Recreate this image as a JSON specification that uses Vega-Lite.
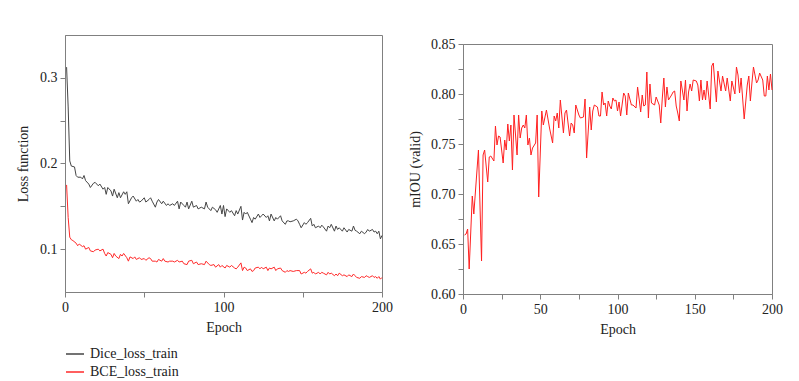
{
"$schema":"https://vega.github.io/schema/vega-lite/v6.json",
"autosize":{"type":"pad"},
"padding":{"left":16,"top":34,"right":5,"bottom":0},
"spacing":15,
"config":{
 "font":"Liberation Serif",
 "view":{"stroke":"#808080","strokeWidth":1},
 "axis":{"domainColor":"#808080","tickColor":"#808080","labelFont":"Liberation Serif","titleFont":"Liberation Serif","labelFontSize":14,"titleFontSize":14,"titleFontWeight":"normal","labelColor":"#222","titleColor":"#222","grid":false,"tickSize":5,"labelPadding":3,"labelAngle":0,"labelFlush":false,"labelOverlap":false},
 "legend":{"labelFont":"Liberation Serif","labelFontSize":14,"labelColor":"#222"}
},
"datasets":{
 "dice":[{"e":1,"v":0.3125},{"e":2,"v":0.266},{"e":3,"v":0.203},{"e":4,"v":0.197},{"e":6,"v":0.196},{"e":7,"v":0.186},{"e":8,"v":0.184},{"e":10,"v":0.184},{"e":11,"v":0.182},{"e":12,"v":0.186},{"e":13,"v":0.18},{"e":15,"v":0.176},{"e":16,"v":0.172},{"e":18,"v":0.177},{"e":19,"v":0.178},{"e":21,"v":0.174},{"e":22,"v":0.176},{"e":24,"v":0.17},{"e":25,"v":0.172},{"e":26,"v":0.164},{"e":27,"v":0.172},{"e":29,"v":0.168},{"e":30,"v":0.162},{"e":31,"v":0.17},{"e":33,"v":0.16},{"e":34,"v":0.166},{"e":35,"v":0.16},{"e":37,"v":0.167},{"e":38,"v":0.164},{"e":39,"v":0.167},{"e":40,"v":0.153},{"e":42,"v":0.16},{"e":43,"v":0.162},{"e":45,"v":0.156},{"e":46,"v":0.158},{"e":47,"v":0.155},{"e":48,"v":0.156},{"e":50,"v":0.16},{"e":51,"v":0.155},{"e":53,"v":0.158},{"e":54,"v":0.16},{"e":55,"v":0.156},{"e":57,"v":0.149},{"e":58,"v":0.155},{"e":59,"v":0.158},{"e":61,"v":0.153},{"e":62,"v":0.156},{"e":64,"v":0.151},{"e":65,"v":0.153},{"e":66,"v":0.151},{"e":68,"v":0.153},{"e":69,"v":0.151},{"e":71,"v":0.156},{"e":72,"v":0.147},{"e":73,"v":0.155},{"e":75,"v":0.151},{"e":76,"v":0.149},{"e":77,"v":0.155},{"e":78,"v":0.147},{"e":80,"v":0.156},{"e":81,"v":0.149},{"e":83,"v":0.151},{"e":84,"v":0.147},{"e":86,"v":0.149},{"e":88,"v":0.147},{"e":89,"v":0.155},{"e":90,"v":0.149},{"e":92,"v":0.145},{"e":93,"v":0.149},{"e":95,"v":0.146},{"e":96,"v":0.143},{"e":98,"v":0.151},{"e":99,"v":0.141},{"e":100,"v":0.151},{"e":101,"v":0.138},{"e":102,"v":0.147},{"e":104,"v":0.143},{"e":105,"v":0.145},{"e":107,"v":0.139},{"e":108,"v":0.145},{"e":109,"v":0.141},{"e":111,"v":0.15},{"e":112,"v":0.134},{"e":113,"v":0.143},{"e":114,"v":0.141},{"e":115,"v":0.143},{"e":117,"v":0.135},{"e":118,"v":0.131},{"e":119,"v":0.137},{"e":120,"v":0.135},{"e":122,"v":0.141},{"e":123,"v":0.137},{"e":124,"v":0.139},{"e":125,"v":0.141},{"e":127,"v":0.137},{"e":128,"v":0.139},{"e":129,"v":0.133},{"e":130,"v":0.141},{"e":132,"v":0.133},{"e":133,"v":0.137},{"e":134,"v":0.135},{"e":136,"v":0.139},{"e":137,"v":0.133},{"e":139,"v":0.129},{"e":140,"v":0.133},{"e":141,"v":0.133},{"e":142,"v":0.132},{"e":144,"v":0.133},{"e":146,"v":0.135},{"e":147,"v":0.133},{"e":148,"v":0.129},{"e":149,"v":0.125},{"e":151,"v":0.131},{"e":152,"v":0.129},{"e":153,"v":0.131},{"e":155,"v":0.136},{"e":156,"v":0.127},{"e":157,"v":0.129},{"e":158,"v":0.125},{"e":160,"v":0.127},{"e":161,"v":0.125},{"e":162,"v":0.128},{"e":163,"v":0.126},{"e":165,"v":0.121},{"e":166,"v":0.127},{"e":167,"v":0.125},{"e":168,"v":0.129},{"e":170,"v":0.121},{"e":171,"v":0.127},{"e":172,"v":0.123},{"e":173,"v":0.125},{"e":175,"v":0.121},{"e":176,"v":0.125},{"e":178,"v":0.12},{"e":179,"v":0.123},{"e":181,"v":0.121},{"e":182,"v":0.127},{"e":183,"v":0.122},{"e":184,"v":0.121},{"e":186,"v":0.118},{"e":187,"v":0.121},{"e":189,"v":0.118},{"e":190,"v":0.12},{"e":191,"v":0.123},{"e":192,"v":0.121},{"e":194,"v":0.123},{"e":195,"v":0.12},{"e":196,"v":0.121},{"e":197,"v":0.118},{"e":198,"v":0.121},{"e":199,"v":0.112},{"e":200,"v":0.116}],
 "bce":[{"e":1,"v":0.175},{"e":2,"v":0.137},{"e":3,"v":0.114},{"e":4,"v":0.111},{"e":5,"v":0.11},{"e":7,"v":0.107},{"e":8,"v":0.104},{"e":9,"v":0.106},{"e":11,"v":0.103},{"e":12,"v":0.104},{"e":13,"v":0.1},{"e":15,"v":0.102},{"e":16,"v":0.098},{"e":18,"v":0.097},{"e":19,"v":0.099},{"e":21,"v":0.1},{"e":22,"v":0.098},{"e":24,"v":0.1},{"e":25,"v":0.095},{"e":26,"v":0.092},{"e":27,"v":0.096},{"e":29,"v":0.094},{"e":30,"v":0.09},{"e":31,"v":0.095},{"e":32,"v":0.092},{"e":34,"v":0.089},{"e":35,"v":0.094},{"e":36,"v":0.092},{"e":37,"v":0.095},{"e":39,"v":0.09},{"e":40,"v":0.086},{"e":41,"v":0.091},{"e":43,"v":0.089},{"e":44,"v":0.091},{"e":45,"v":0.088},{"e":47,"v":0.09},{"e":48,"v":0.088},{"e":50,"v":0.089},{"e":51,"v":0.087},{"e":53,"v":0.09},{"e":54,"v":0.089},{"e":55,"v":0.086},{"e":57,"v":0.086},{"e":58,"v":0.085},{"e":59,"v":0.088},{"e":61,"v":0.086},{"e":62,"v":0.089},{"e":63,"v":0.086},{"e":65,"v":0.085},{"e":66,"v":0.086},{"e":68,"v":0.086},{"e":69,"v":0.085},{"e":71,"v":0.087},{"e":72,"v":0.085},{"e":74,"v":0.086},{"e":75,"v":0.083},{"e":77,"v":0.082},{"e":78,"v":0.086},{"e":80,"v":0.087},{"e":81,"v":0.083},{"e":83,"v":0.085},{"e":84,"v":0.082},{"e":86,"v":0.083},{"e":88,"v":0.082},{"e":89,"v":0.086},{"e":91,"v":0.082},{"e":92,"v":0.081},{"e":94,"v":0.082},{"e":95,"v":0.079},{"e":97,"v":0.082},{"e":98,"v":0.079},{"e":99,"v":0.081},{"e":101,"v":0.078},{"e":102,"v":0.081},{"e":104,"v":0.079},{"e":105,"v":0.081},{"e":107,"v":0.078},{"e":108,"v":0.077},{"e":109,"v":0.079},{"e":111,"v":0.084},{"e":112,"v":0.075},{"e":113,"v":0.079},{"e":114,"v":0.078},{"e":115,"v":0.075},{"e":117,"v":0.077},{"e":118,"v":0.074},{"e":119,"v":0.075},{"e":120,"v":0.078},{"e":122,"v":0.079},{"e":123,"v":0.077},{"e":124,"v":0.079},{"e":125,"v":0.077},{"e":127,"v":0.079},{"e":128,"v":0.075},{"e":129,"v":0.078},{"e":130,"v":0.077},{"e":132,"v":0.079},{"e":133,"v":0.075},{"e":134,"v":0.077},{"e":136,"v":0.078},{"e":137,"v":0.075},{"e":139,"v":0.073},{"e":140,"v":0.075},{"e":141,"v":0.074},{"e":142,"v":0.075},{"e":144,"v":0.074},{"e":146,"v":0.075},{"e":147,"v":0.075},{"e":148,"v":0.075},{"e":149,"v":0.071},{"e":151,"v":0.073},{"e":152,"v":0.072},{"e":153,"v":0.074},{"e":155,"v":0.077},{"e":156,"v":0.072},{"e":157,"v":0.073},{"e":158,"v":0.071},{"e":160,"v":0.073},{"e":161,"v":0.071},{"e":162,"v":0.073},{"e":163,"v":0.072},{"e":165,"v":0.07},{"e":166,"v":0.073},{"e":167,"v":0.071},{"e":168,"v":0.072},{"e":170,"v":0.069},{"e":171,"v":0.071},{"e":172,"v":0.069},{"e":173,"v":0.072},{"e":175,"v":0.069},{"e":176,"v":0.07},{"e":178,"v":0.068},{"e":179,"v":0.07},{"e":181,"v":0.068},{"e":182,"v":0.071},{"e":183,"v":0.069},{"e":184,"v":0.067},{"e":186,"v":0.066},{"e":187,"v":0.068},{"e":189,"v":0.067},{"e":190,"v":0.069},{"e":191,"v":0.068},{"e":192,"v":0.067},{"e":194,"v":0.069},{"e":195,"v":0.067},{"e":196,"v":0.068},{"e":197,"v":0.066},{"e":198,"v":0.068},{"e":199,"v":0.065},{"e":200,"v":0.067}],
 "miou":[{"e":1,"v":0.659},{"e":2,"v":0.66},{"e":3,"v":0.665},{"e":4,"v":0.625},{"e":6,"v":0.698},{"e":7,"v":0.68},{"e":10,"v":0.744},{"e":12,"v":0.633},{"e":13,"v":0.739},{"e":14,"v":0.744},{"e":16,"v":0.712},{"e":17,"v":0.737},{"e":18,"v":0.738},{"e":20,"v":0.733},{"e":21,"v":0.768},{"e":22,"v":0.749},{"e":23,"v":0.758},{"e":24,"v":0.757},{"e":26,"v":0.731},{"e":27,"v":0.754},{"e":28,"v":0.744},{"e":29,"v":0.77},{"e":30,"v":0.753},{"e":31,"v":0.769},{"e":32,"v":0.724},{"e":33,"v":0.779},{"e":35,"v":0.739},{"e":36,"v":0.779},{"e":37,"v":0.756},{"e":38,"v":0.766},{"e":39,"v":0.769},{"e":40,"v":0.766},{"e":41,"v":0.779},{"e":42,"v":0.749},{"e":43,"v":0.756},{"e":44,"v":0.739},{"e":45,"v":0.746},{"e":47,"v":0.751},{"e":48,"v":0.779},{"e":49,"v":0.697},{"e":51,"v":0.783},{"e":52,"v":0.769},{"e":54,"v":0.784},{"e":56,"v":0.766},{"e":58,"v":0.751},{"e":59,"v":0.778},{"e":60,"v":0.773},{"e":61,"v":0.781},{"e":62,"v":0.766},{"e":63,"v":0.794},{"e":65,"v":0.761},{"e":66,"v":0.781},{"e":67,"v":0.784},{"e":69,"v":0.758},{"e":70,"v":0.771},{"e":71,"v":0.769},{"e":72,"v":0.761},{"e":73,"v":0.789},{"e":75,"v":0.779},{"e":76,"v":0.776},{"e":78,"v":0.777},{"e":79,"v":0.795},{"e":80,"v":0.736},{"e":82,"v":0.787},{"e":83,"v":0.764},{"e":84,"v":0.783},{"e":85,"v":0.789},{"e":87,"v":0.787},{"e":88,"v":0.778},{"e":89,"v":0.778},{"e":90,"v":0.802},{"e":91,"v":0.789},{"e":92,"v":0.791},{"e":93,"v":0.778},{"e":94,"v":0.793},{"e":95,"v":0.788},{"e":96,"v":0.785},{"e":97,"v":0.796},{"e":98,"v":0.793},{"e":99,"v":0.794},{"e":100,"v":0.783},{"e":101,"v":0.792},{"e":102,"v":0.778},{"e":104,"v":0.801},{"e":105,"v":0.798},{"e":106,"v":0.779},{"e":107,"v":0.801},{"e":109,"v":0.789},{"e":110,"v":0.789},{"e":112,"v":0.786},{"e":113,"v":0.807},{"e":114,"v":0.795},{"e":115,"v":0.782},{"e":116,"v":0.799},{"e":117,"v":0.788},{"e":118,"v":0.789},{"e":119,"v":0.822},{"e":120,"v":0.776},{"e":121,"v":0.81},{"e":122,"v":0.791},{"e":124,"v":0.789},{"e":125,"v":0.797},{"e":127,"v":0.789},{"e":128,"v":0.771},{"e":129,"v":0.796},{"e":130,"v":0.816},{"e":131,"v":0.787},{"e":132,"v":0.807},{"e":133,"v":0.794},{"e":135,"v":0.799},{"e":136,"v":0.802},{"e":137,"v":0.803},{"e":138,"v":0.788},{"e":139,"v":0.781},{"e":140,"v":0.773},{"e":141,"v":0.813},{"e":143,"v":0.794},{"e":144,"v":0.814},{"e":145,"v":0.783},{"e":146,"v":0.802},{"e":147,"v":0.81},{"e":148,"v":0.803},{"e":149,"v":0.814},{"e":151,"v":0.813},{"e":152,"v":0.809},{"e":153,"v":0.793},{"e":154,"v":0.814},{"e":155,"v":0.794},{"e":156,"v":0.804},{"e":157,"v":0.794},{"e":158,"v":0.813},{"e":160,"v":0.785},{"e":161,"v":0.828},{"e":162,"v":0.831},{"e":163,"v":0.811},{"e":164,"v":0.792},{"e":165,"v":0.823},{"e":167,"v":0.803},{"e":168,"v":0.818},{"e":170,"v":0.803},{"e":171,"v":0.816},{"e":173,"v":0.793},{"e":174,"v":0.813},{"e":176,"v":0.8},{"e":177,"v":0.827},{"e":178,"v":0.819},{"e":179,"v":0.801},{"e":180,"v":0.816},{"e":182,"v":0.775},{"e":184,"v":0.809},{"e":185,"v":0.818},{"e":186,"v":0.793},{"e":187,"v":0.811},{"e":188,"v":0.827},{"e":190,"v":0.811},{"e":191,"v":0.814},{"e":192,"v":0.821},{"e":194,"v":0.814},{"e":195,"v":0.798},{"e":196,"v":0.798},{"e":197,"v":0.818},{"e":198,"v":0.804},{"e":199,"v":0.82},{"e":200,"v":0.804}]
},
"resolve":{"legend":{"color":"independent"}},
"hconcat":[
 {
  "width":317,"height":257,
  "encoding":{
   "x":{"field":"e","type":"quantitative","scale":{"domain":[0,200],"nice":false},"axis":{"title":"Epoch","values":[0,50,100,150,200],"labelExpr":"datum.value%100==0 ? datum.label : ''","titlePadding":6}},
   "y":{"field":"v","type":"quantitative","scale":{"domain":[0.05,0.35],"nice":false,"zero":false},"axis":{"title":"Loss function","values":[0.1,0.15,0.2,0.25,0.3],"labelExpr":"round(datum.value*100)%10==0 ? format(datum.value,'.1f') : ''","titlePadding":9}}
  },
  "layer":[
   {"data":{"name":"dice"},"mark":{"type":"line","strokeWidth":1},"encoding":{"color":{"datum":"Dice_loss_train","type":"nominal","scale":{"domain":["Dice_loss_train","BCE_loss_train"],"range":["#454545","#ff2a2a"]},"legend":{"title":null,"orient":"none","legendX":0,"legendY":309,"symbolType":"stroke","symbolSize":324,"symbolStrokeWidth":1.5,"labelOffset":5,"rowPadding":1,"padding":0}}}},
   {"data":{"name":"bce"},"mark":{"type":"line","strokeWidth":1},"encoding":{"color":{"datum":"BCE_loss_train","type":"nominal"}}}
  ]
 },
 {
  "spacing":0,
  "vconcat":[
   {"width":309,"height":1,"view":{"stroke":null},"data":{"values":[{}]},"mark":{"type":"point","size":0,"opacity":0},"encoding":{}},
   {
    "width":309,"height":250,
    "data":{"name":"miou"},
    "mark":{"type":"line","strokeWidth":1,"color":"#ff2020"},
    "encoding":{
     "x":{"field":"e","type":"quantitative","scale":{"domain":[0,200],"nice":false},"axis":{"title":"Epoch","values":[0,25,50,75,100,125,150,175,200],"labelExpr":"datum.value%50==0 ? datum.label : ''","titlePadding":6}},
     "y":{"field":"v","type":"quantitative","scale":{"domain":[0.6,0.85],"nice":false,"zero":false},"axis":{"title":"mIOU (valid)","values":[0.6,0.625,0.65,0.675,0.7,0.725,0.75,0.775,0.8,0.825,0.85],"labelExpr":"round(datum.value*1000)%50==0 ? format(datum.value,'.2f') : ''","titlePadding":8}}
    }
   }
  ]
 }
]
}
